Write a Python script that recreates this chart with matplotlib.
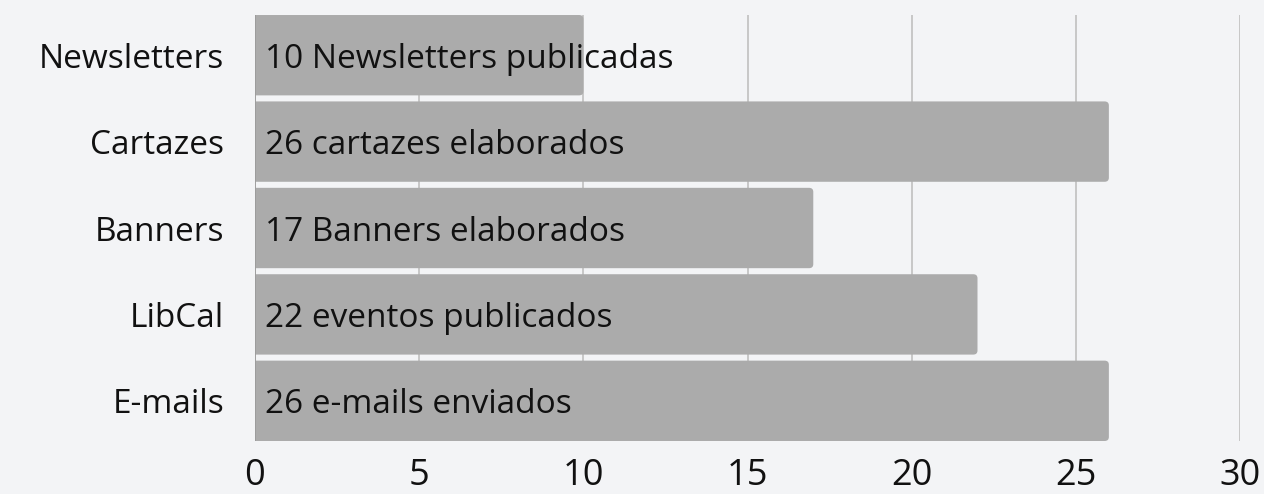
import matplotlib
matplotlib.use("Agg")
import matplotlib.pyplot as plt
from matplotlib.patches import FancyBboxPatch
import numpy as np

categories = ["Newsletters", "Cartazes", "Banners", "LibCal", "E-mails"]
values = [10, 26, 17, 22, 26]
bar_labels = ["10 Newsletters publicadas", "26 cartazes elaborados",
              "17 Banners elaborados", "22 eventos publicados",
              "26 e-mails enviados"]
xticks = [0, 5, 10, 15, 20, 25, 30]

plt.rcParams['font.family'] = ['Open Sans', 'DejaVu Sans']

fig = plt.figure(figsize=(12.64, 4.94), dpi=100)
fig.patch.set_facecolor("#f3f4f6")
ax = fig.add_axes([0.2017, 0.1073, 0.7795, 0.8623])
ax.set_facecolor("none")

y = np.arange(len(categories))
h = 0.93
bars = ax.barh(y, values, height=h, color="#ababab", zorder=2)

# swap the plain bars for ones with slightly rounded ends
for b in bars:
    x0, y0 = b.get_x(), b.get_y()
    w, bh = b.get_width(), b.get_height()
    b.set_visible(False)
    p = FancyBboxPatch((x0 - 0.3, y0), w + 0.3, bh,
                       boxstyle="round,pad=0,rounding_size=0.13",
                       mutation_aspect=0.36, facecolor="#ababab",
                       edgecolor="none", zorder=2)
    ax.add_patch(p)

for i, txt in enumerate(bar_labels):
    ax.annotate(txt, (0, y[i]), xytext=(7, -3), textcoords="offset points",
                va="center", ha="left", fontsize=24, color="#111111", zorder=3)

ax.set_xlim(0, 30)
ax.set_ylim(len(categories) - 0.5 - (1 - h) / 2, -0.5 + (1 - h) / 2)
ax.set_xticks(xticks)
ax.set_yticks(y)
ax.set_yticklabels(categories)
ax.tick_params(axis="y", length=0, labelsize=24, colors="#111111", pad=22)
ax.tick_params(axis="x", length=0, labelsize=26, colors="#111111", pad=12)
ax.grid(axis="x", color="#c4c4c4", linewidth=1.3, zorder=1)
ax.axvline(0, color="#999999", linewidth=1.2, zorder=2.5)
for s in ax.spines.values():
    s.set_visible(False)

fig.savefig("out.png", dpi=100, facecolor=fig.get_facecolor())
